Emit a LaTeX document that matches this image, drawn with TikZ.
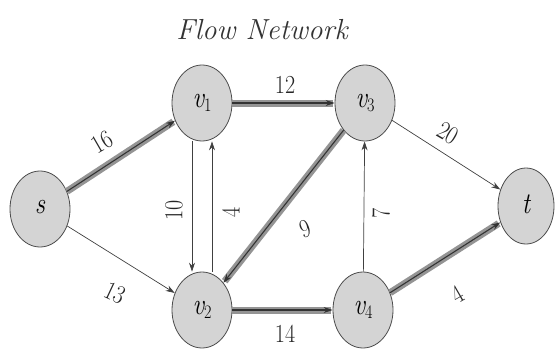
\documentclass[tikz,border=0pt]{standalone}
\usepackage{fontspec}
\setmainfont{Latin Modern Roman}
\usepackage{graphicx}
\usetikzlibrary{shapes.geometric,arrows.meta}
\newcommand{\vlab}[2]{\scalebox{0.85}[1]{\itshape #1\raisebox{-0.35ex}{\fontsize{19}{21}\selectfont\upshape #2}}}
\newcommand{\elab}[1]{\scalebox{0.85}[1]{#1}}
\begin{document}
\begin{tikzpicture}[x=1pt,y=-1pt,
  vert/.style={ellipse, draw=black!70, line width=0.8pt, fill=black!17,
    minimum width=60pt, minimum height=76pt, inner sep=0pt,
    font=\fontsize{30}{32}\selectfont},
  plainedge/.style={draw=black!75, line width=0.7pt, -{Stealth[length=9pt,width=6pt]}},
  hl/.style={preaction={draw=black!42, line width=7pt, -, shorten >=2pt},
    draw=black!80, line width=1.1pt, -{Stealth[length=9pt,width=6pt]}},
  lab/.style={font=\fontsize{26}{28}\selectfont, inner sep=0pt, text=black!85}]
\useasboundingbox (0,0) rectangle (556,348);
\node[font=\fontsize{29}{32}\selectfont\itshape, text=black!80] (title) at (262,30) {Flow Network};
\node[vert] (s)  at (40,209)  {\vlab{s}{}};
\node[vert] (v1) at (202,103) {\vlab{v}{1}};
\node[vert] (v3) at (365,103) {\vlab{v}{3}};
\node[vert] (v2) at (202,310) {\vlab{v}{2}};
\node[vert] (v4) at (363,310) {\vlab{v}{4}};
\node[vert, minimum width=56pt] (t) at (526,206) {\vlab{t}{}};
\draw[hl] (s) -- (v1);
\draw[plainedge] (s) -- (v2);
\draw[hl] (v1) -- (v3);
\draw[plainedge] ([xshift=-10pt]v1.south) -- ([xshift=-10pt]v2.north);
\draw[plainedge] ([xshift=10pt]v2.north) -- ([xshift=10pt]v1.south);
\draw[hl] (v3) -- (v2);
\draw[hl] (v2) -- (v4);
\draw[plainedge] (v4) -- (v3);
\draw[plainedge] (v3) -- (t);
\draw[hl] (v4) -- (t);
\node[lab, rotate=30]  (l16) at (102,142) {\elab{16}};
\node[lab, rotate=-25] (l13) at (115,293) {\elab{13}};
\node[lab]             (l12) at (285,85)  {\elab{12}};
\node[lab, rotate=90]  (l10) at (174,210) {\elab{10}};
\node[lab, rotate=90]  (l4a) at (231,212) {\elab{4}};
\node[lab, rotate=20]  (l9)  at (305,229) {\elab{9}};
\node[lab, rotate=90]  (l7)  at (381,213) {\elab{7}};
\node[lab, rotate=-30] (l20) at (448,133) {\elab{20}};
\node[lab, rotate=30]  (l4b) at (458,294) {\elab{4}};
\node[lab]             (l14) at (285,334) {\elab{14}};
\end{tikzpicture}
\end{document}
